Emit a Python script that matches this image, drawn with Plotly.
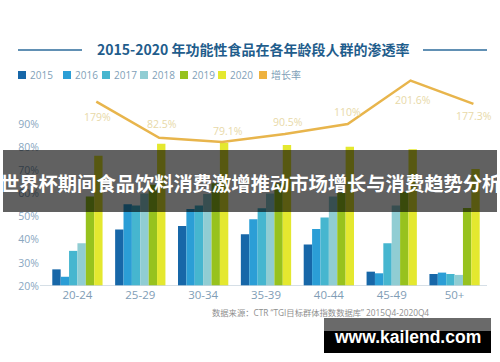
import plotly.graph_objects as go
import numpy as np

# ---------------- data ----------------
categories = ["20-24", "25-29", "30-34", "35-39", "40-44", "45-49", "50+"]
years = ["2015", "2016", "2017", "2018", "2019", "2020"]
v2015 = [27.2, 44.5, 46.0, 42.4, 38.0, 26.2, 25.2]
v2016 = [24.0, 55.4, 53.3, 48.9, 44.7, 25.5, 25.8]
v2017 = [35.2, 54.8, 54.8, 53.6, 49.6, 38.5, 25.2]
v2018 = [38.5, 60.0, 59.8, 60.0, 58.7, 54.8, 24.8]
v2019 = [58.7, 63.8, 64.5, 64.5, 60.3, 60.8, 53.8]
v2020 = [76.4, 81.5, 82.0, 81.0, 80.3, 79.2, 70.6]
growth_name = "增长率"
growth_labels = ["179%", "82.5%", "79.1%", "90.5%", "110%", "201.6%", "177.3%"]
# height of the growth line as read against the left axis (the line is drawn for effect, not to scale)
growth_level = [99.8, 84.1, 82.3, 85.8, 90.1, 108.9, 98.8]
y_ticks = [20, 30, 40, 50, 60, 70, 80, 90]
y_tick_text = ["20%", "30%", "40%", "50%", "60%", "70%", "80%", "90%"]

title_text = "2015-2020 年功能性食品在各年龄段人群的渗透率"
banner_text = "世界杯期间食品饮料消费激增推动市场增长与消费趋势分析"
source_text = "数据来源：CTR “TGI目标群体指数数据库” 2015Q4-2020Q4"
watermark_text = "www.kailend.com"

# ---------------- style ----------------
colors = ["#1767a8", "#2b9ed6", "#46b6cf", "#90cdd3", "#97c21e", "#e4e82f"]
line_color = "#e8b54c"
label_color = "#e8d9a8"
tick_color = "#8aa7bf"
W, H = 500, 362
ML, MR, MT, MB = 46, 14, 78, 76
PW, PH = W - ML - MR, H - MT - MB
FONT = "Open Sans, Noto Sans CJK SC, sans-serif"
CJK = "Noto Sans CJK SC, sans-serif"


def px(x):
    return (x - ML) / PW


def py(y):
    return (H - MB - y) / PH


series = [v2015, v2016, v2017, v2018, v2019, v2020]
x_idx = np.arange(len(categories))
line_x = x_idx + 0.3

fig = go.Figure()
for name, vals, c in zip(years, series, colors):
    fig.add_trace(go.Bar(x=x_idx, y=vals, name=name, marker=dict(color=c, line=dict(width=0)),
                         showlegend=False, hoverinfo="skip"))

fig.add_trace(go.Scatter(x=line_x, y=growth_level, mode="lines", name=growth_name,
                         line=dict(color=line_color, width=2.5),
                         cliponaxis=False, showlegend=False, hoverinfo="skip"))

shapes = []
annotations = []

# growth labels (below the peaks, above the valleys)
label_shift = [-15, 14, 11, 12, 12, -19, -12]
label_dx = [1, 3, 6, 3, 0, 2, 1]
for lx, ly, t, s, d in zip(line_x, growth_level, growth_labels, label_shift, label_dx):
    annotations.append(dict(text=t, x=lx, y=ly, xref="x", yref="y", showarrow=False,
                            xanchor="center", yanchor="middle", yshift=s, xshift=d,
                            font=dict(size=10.5, color=label_color, family=FONT)))

# baseline
shapes.append(dict(type="line", xref="paper", yref="y", x0=px(40), x1=px(487), y0=20, y1=20,
                   line=dict(color="#c8d4de", width=1.5)))

# title with side rules
annotations.append(dict(text="<b>" + title_text + "</b>", xref="paper", yref="paper",
                        x=px(253), y=py(49), showarrow=False, xanchor="center", yanchor="middle",
                        font=dict(size=14, color="#1f5d8c", family=CJK)))
for a, b in [(18, 82), (423, 487)]:
    shapes.append(dict(type="line", xref="paper", yref="paper", x0=px(a), x1=px(b),
                       y0=py(50), y1=py(50), line=dict(color="#2c6b9b", width=1.5)))

# legend (drawn manually)
legend_names = years + [growth_name]
legend_colors = colors + ["#eeb23f"]
legend_x = [18, 63, 102, 140, 180, 218, 259]
for nm, c, lx in zip(legend_names, legend_colors, legend_x):
    shapes.append(dict(type="rect", xref="paper", yref="paper", x0=px(lx), x1=px(lx + 8),
                       y0=py(79), y1=py(71), fillcolor=c, line=dict(width=0)))
    annotations.append(dict(text=nm, xref="paper", yref="paper", x=px(lx + 10), y=py(75),
                            showarrow=False, xanchor="left", yanchor="middle",
                            font=dict(size=10, color="#7f9fb8", family=FONT)))

# source note
annotations.append(dict(text=source_text, xref="paper", yref="paper", x=px(210), y=py(312),
                        showarrow=False, xanchor="left", yanchor="middle",
                        font=dict(size=8.3, color="#8e8e8e", family=FONT)))

# dark banner overlay
shapes.append(dict(type="rect", xref="paper", yref="paper", x0=px(3), x1=px(497),
                   y0=py(212), y1=py(150), fillcolor="rgba(0,0,0,0.62)", line=dict(width=0),
                   layer="above"))
annotations.append(dict(text="<b>" + banner_text + "</b>", xref="paper", yref="paper",
                        x=px(250), y=py(183), showarrow=False, xanchor="center", yanchor="middle",
                        font=dict(size=19.3, color="white", family=CJK)))

# watermark
shapes.append(dict(type="rect", xref="paper", yref="paper", x0=px(324), x1=px(491),
                   y0=py(331), y1=py(318), fillcolor="#6a6a6a", line=dict(width=0), layer="above"))
shapes.append(dict(type="rect", xref="paper", yref="paper", x0=px(324), x1=px(491),
                   y0=py(353), y1=py(331), fillcolor="#000000", line=dict(width=0), layer="above"))
annotations.append(dict(text="<b>" + watermark_text + "</b>", xref="paper", yref="paper",
                        x=px(407), y=py(336.5), showarrow=False, xanchor="center", yanchor="middle",
                        font=dict(size=17.5, color="white", family="Liberation Sans, Arial, sans-serif")))

fig.update_layout(
    width=W, height=H,
    margin=dict(l=ML, r=MR, t=MT, b=MB, pad=0, autoexpand=False),
    paper_bgcolor="white", plot_bgcolor="white",
    barmode="group", bargap=0.2, bargroupgap=0,
    showlegend=False,
    xaxis=dict(range=[-0.5, 6.5], tickmode="array", tickvals=list(x_idx), ticktext=categories,
               showgrid=False, zeroline=False, showline=False, ticks="", automargin=False,
               tickfont=dict(size=11.5, color="#7f9db6", family=FONT)),
    yaxis=dict(range=[20, 110], tickmode="array", tickvals=y_ticks, ticktext=y_tick_text,
               showgrid=False, zeroline=False, showline=False, ticks="", automargin=False,
               ticklabelstandoff=6,
               tickfont=dict(size=10.5, color=tick_color, family=FONT)),
    shapes=shapes, annotations=annotations,
)

fig.write_html("out.html", config={"displayModeBar": False},
               post_script="document.body.style.margin='0px';document.body.style.padding='0px';")
